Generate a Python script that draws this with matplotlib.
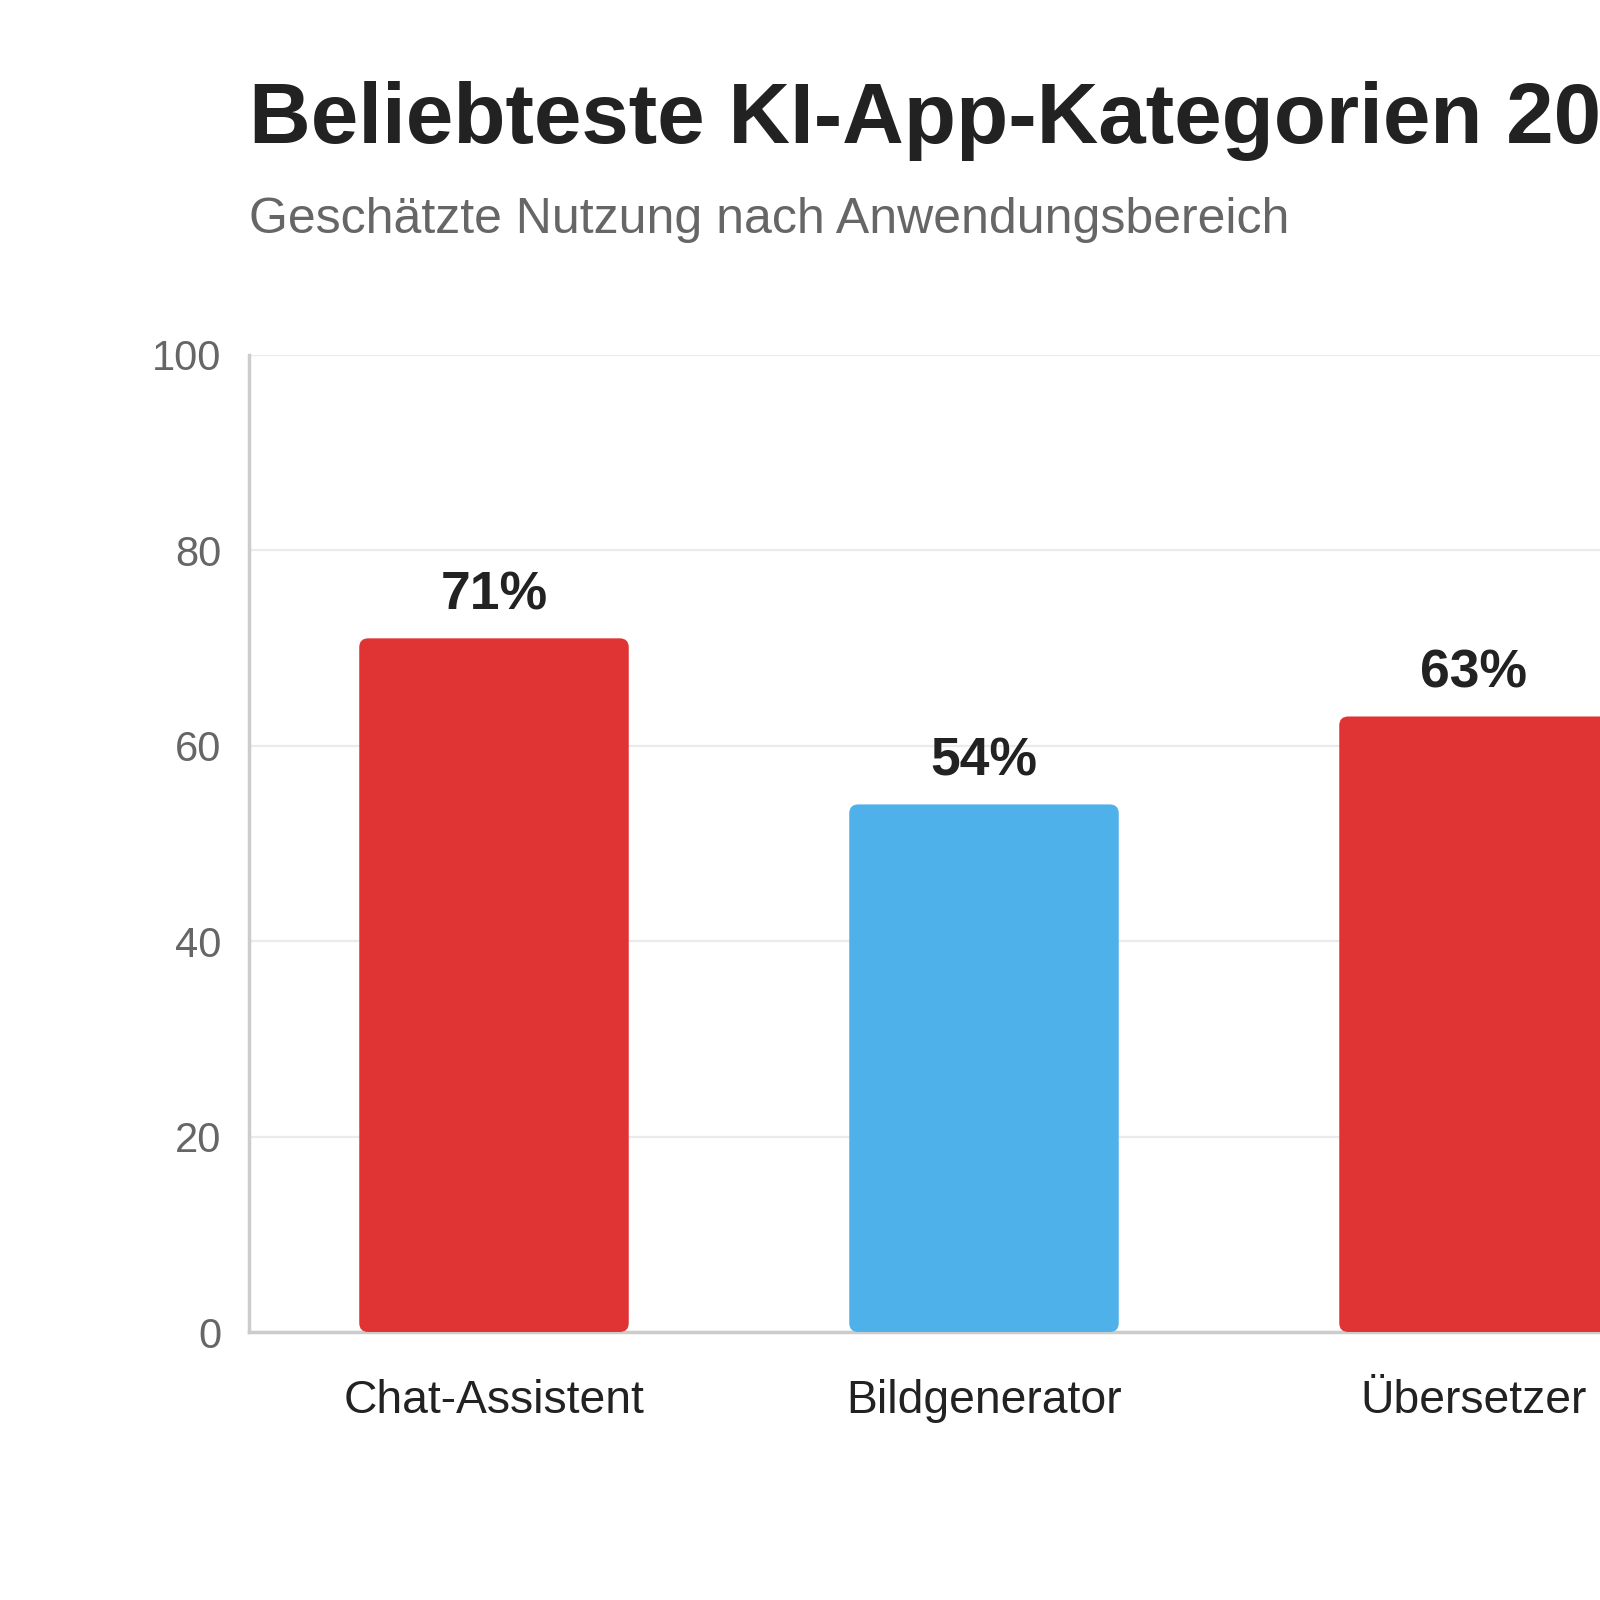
import matplotlib
matplotlib.use("Agg")
import matplotlib.pyplot as plt
from matplotlib.patches import FancyBboxPatch

categories = ["Chat-Assistent", "Bildgenerator", "Übersetzer"]
values = [71, 54, 63]
colors = ["#E03334", "#4FB1EA", "#E03334"]
yticks = [0, 20, 40, 60, 80, 100]

title = "Beliebteste KI-App-Kategorien 2024"
subtitle = "Geschätzte Nutzung nach Anwendungsbereich"

plt.rcParams['font.family'] = ['Liberation Sans', 'DejaVu Sans']

W = H = 1600
fig = plt.figure(figsize=(16, 16), dpi=100)
ax_left, ax_bottom = 249 / W, 1 - 1332 / H
ax_w, ax_h = 1470 / W, (1332 - 355) / H
ax = fig.add_axes([ax_left, ax_bottom, ax_w, ax_h])

x = list(range(len(categories)))
bars = ax.bar(x, values, width=0.55, color=colors)
ax.set_xlim(-0.5, len(categories) - 0.5)
ax.set_ylim(0, 100)

# rounded corners
xpp = (len(categories)) / 1470.0
ypp = 100.0 / (1332 - 355)
r = 9 * xpp
for b in bars:
    x0, y0 = b.get_x(), b.get_y()
    w, h = b.get_width(), b.get_height()
    p = FancyBboxPatch((x0, y0), w, h,
                       boxstyle=f"round,pad=0,rounding_size={r}",
                       mutation_aspect=ypp / xpp,
                       facecolor=b.get_facecolor(), edgecolor="none", zorder=3)
    b.set_visible(False)
    ax.add_patch(p)

for xi, v in zip(x, values):
    ax.annotate(f"{v}%", (xi, v), xytext=(0, 13), textcoords="offset points",
                ha="center", va="bottom", fontsize=38.5, fontweight="bold",
                color="#222222")

ax.set_yticks(yticks)
ax.set_yticklabels([str(t) for t in yticks])
ax.set_xticks(x)
ax.set_xticklabels(categories)
ax.tick_params(axis="y", length=0, pad=20, labelsize=30, labelcolor="#666666")
ax.tick_params(axis="x", length=0, pad=34, labelsize=33.3, labelcolor="#222222")
ax.grid(axis="y", color="#ebebeb", linewidth=1.6, zorder=0)
ax.set_axisbelow(True)
for s in ["top", "right"]:
    ax.spines[s].set_visible(False)
for s in ["left", "bottom"]:
    ax.spines[s].set_color("#cccccc")
    ax.spines[s].set_linewidth(2.5)

fig.text(ax_left, 1 - 143 / H, title, fontsize=61.5, fontweight="bold",
         color="#222222", ha="left", va="baseline")
fig.text(ax_left, 1 - 233 / H, subtitle, fontsize=36, color="#666666",
         ha="left", va="baseline")

fig.savefig("out.png", dpi=100, facecolor="white")
